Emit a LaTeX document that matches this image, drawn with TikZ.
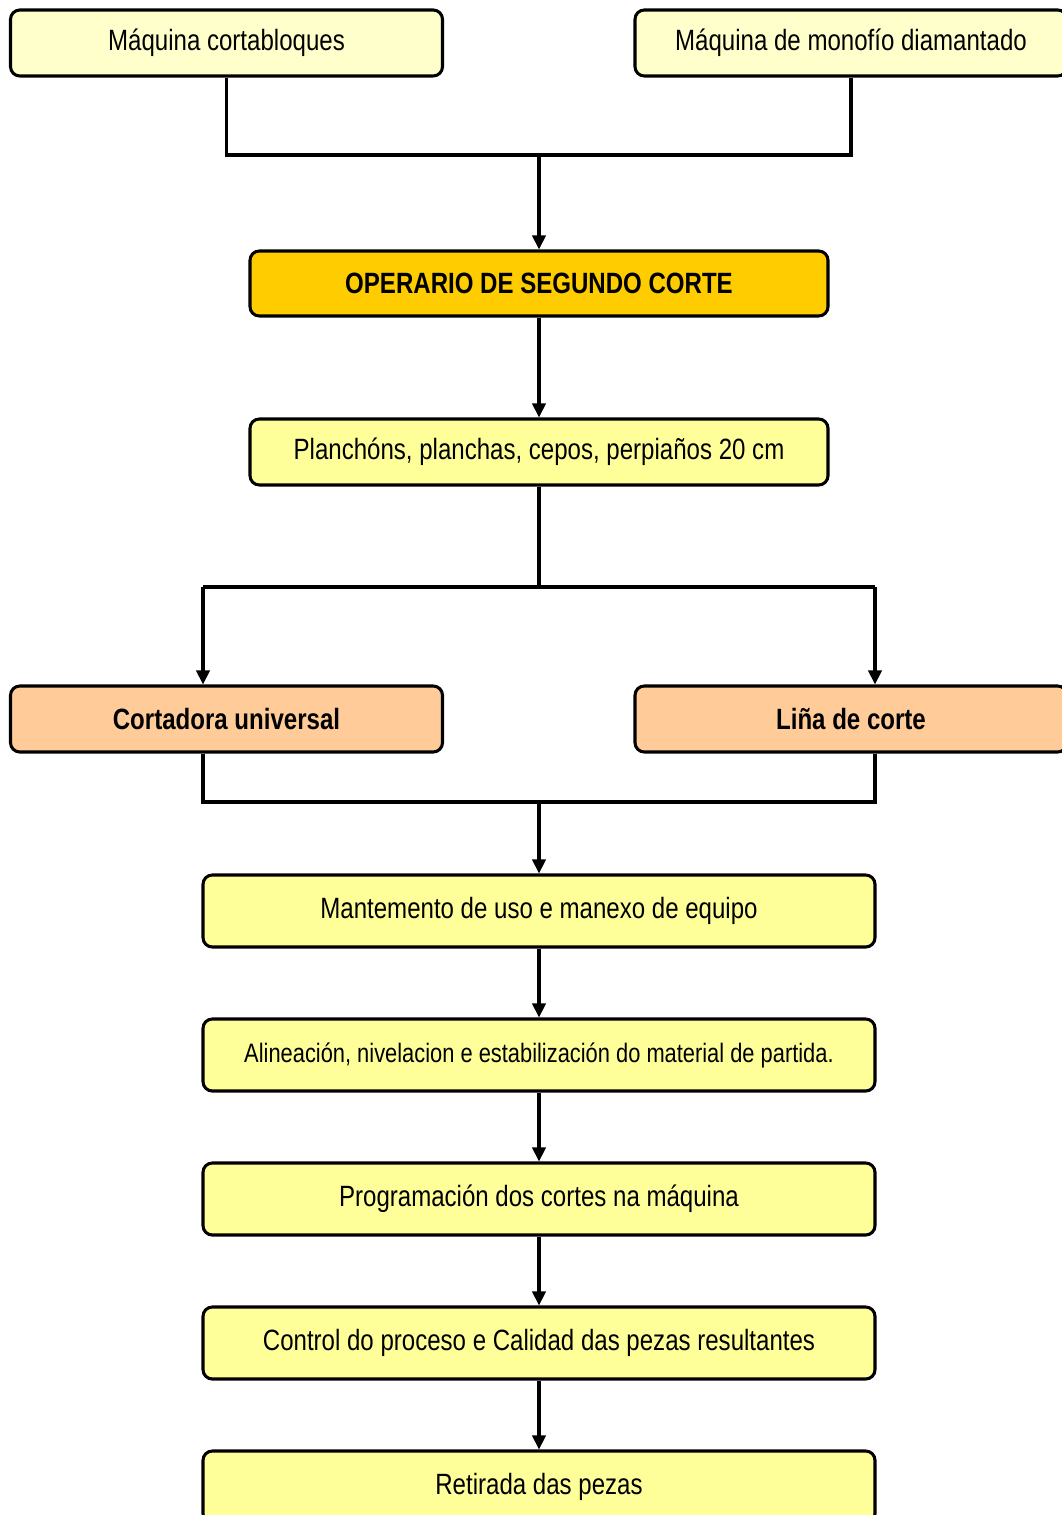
\documentclass[tikz,border=0pt]{standalone}
\usepackage{fontspec}
\setmainfont[FakeStretch=0.82]{Liberation Sans}
\usetikzlibrary{arrows.meta}
\definecolor{cream}{HTML}{FFFFCC}
\definecolor{lemon}{HTML}{FFFF99}
\definecolor{gold}{HTML}{FFCC00}
\definecolor{peach}{HTML}{FFCC99}
\tikzset{
  box/.style={draw=black, line width=2.3pt, rounded corners=7pt, align=center,
    font=\fontsize{22pt}{26pt}\selectfont, inner sep=0pt},
  topbox/.style={box, fill=cream, minimum width=324pt, minimum height=49.5pt},
  headbox/.style={box, fill=gold, minimum width=433.5pt, minimum height=48.75pt,
    font=\fontsize{22pt}{26pt}\selectfont\bfseries},
  midbox/.style={box, fill=lemon, minimum width=433.5pt, minimum height=49.5pt},
  machbox/.style={box, fill=peach, minimum width=324pt, minimum height=49.5pt,
    font=\fontsize{22pt}{26pt}\selectfont\bfseries},
  stepbox/.style={box, fill=lemon, minimum width=504pt, minimum height=54pt},
  conn/.style={draw=black, line width=2.3pt},
  arr/.style={conn, -{Triangle[length=10.5pt,width=10pt]}}
}
\begin{document}
\begin{tikzpicture}[x=0.75pt, y=-0.75pt]
\useasboundingbox (0,0) rectangle (1061,1515);
\node[topbox] (b1) at (226.5,43) {Máquina cortabloques};
\node[topbox] (b2) at (851,43) {Máquina de monofío diamantado};
\node[headbox] (b3) at (539,283.5) {OPERARIO DE SEGUNDO CORTE};
\node[midbox] (b4) at (539,452) {Planchóns, planchas, cepos, perpiaños 20 cm};
\node[machbox] (b5) at (226.5,719) {Cortadora universal};
\node[machbox] (b6) at (851,719) {Liña de corte};
\node[stepbox] (b7) at (539,911) {Mantemento de uso e manexo de equipo};
\node[stepbox, font=\fontsize{20pt}{24pt}\selectfont] (b8) at (539,1055) {Alineación, nivelacion e estabilización do material de partida.};
\node[stepbox] (b9) at (539,1199) {Programación dos cortes na máquina};
\node[stepbox] (b10) at (539,1343) {Control do proceso e Calidad das pezas resultantes};
\node[stepbox] (b11) at (539,1487) {Retirada das pezas};

\coordinate (j1) at (539,155);
\draw[conn] (b1.south) |- (j1) -| (b2.south);
\draw[arr] (j1) -- (b3.north);
\draw[arr] (b3) -- (b4);

\coordinate (j2) at (539,587);
\coordinate (l1) at (203,587);
\coordinate (r1) at (875,587);
\draw[conn] (b4.south) -- (j2);
\draw[conn] (l1) -- (r1);
\draw[arr] (l1) -- (l1 |- b5.north);
\draw[arr] (r1) -- (r1 |- b6.north);

\coordinate (l2) at (203,802);
\coordinate (r2) at (875,802);
\coordinate (j3) at (539,802);
\draw[conn] (l2 |- b5.south) -- (l2) -- (r2) -- (r2 |- b6.south);
\draw[arr] (j3) -- (b7.north);
\draw[arr] (b7) -- (b8);
\draw[arr] (b8) -- (b9);
\draw[arr] (b9) -- (b10);
\draw[arr] (b10) -- (b11);
\end{tikzpicture}
\end{document}
